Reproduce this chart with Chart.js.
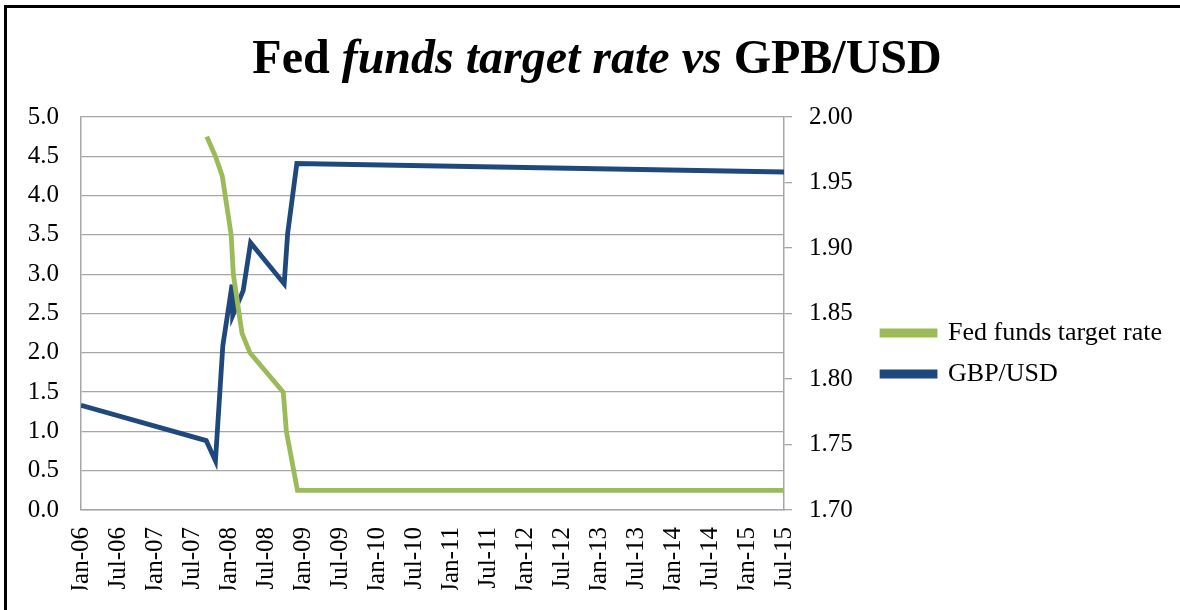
<!DOCTYPE html>
<html>
<head>
<meta charset="utf-8">
<script src="https://cdn.jsdelivr.net/npm/chart.js@4.4.1/dist/chart.umd.min.js"></script>
<style>
  html, body { margin: 0; padding: 0; background: #fff; }
  #wrap { position: relative; width: 1180px; height: 610px; overflow: hidden; }
  #frame { position: absolute; left: 4px; top: 5px; right: -10px; bottom: -10px;
           border-top: 3px solid #000; border-left: 3px solid #000; }
  #title { position: absolute; left: 0; top: 33px; width: 1194px; text-align: center;
           font: bold 48px "Liberation Serif", "Times New Roman", serif; line-height: 48px; color: #000; }
  #title i { font-style: italic; }
  canvas { position: absolute; left: 0; top: 0; }
</style>
</head>
<body>
<div id="wrap">
  <div id="frame"></div>
  <canvas id="chart" width="1180" height="610"></canvas>
  <div id="title">Fed <i>funds target rate vs</i> GPB/USD</div>
</div>
<script>
// months counted from Jan-06 = 0
const tickLabels = ["Jan-06","Jul-06","Jan-07","Jul-07","Jan-08","Jul-08","Jan-09","Jul-09",
  "Jan-10","Jul-10","Jan-11","Jul-11","Jan-12","Jul-12","Jan-13","Jul-13",
  "Jan-14","Jul-14","Jan-15","Jul-15"];

const fedMonths = [20.4, 21.8, 22.9, 24.35, 24.7, 26.1, 27.4, 32.8, 33.3, 35.1, 114];
const fedRate   = [4.75, 4.5, 4.25, 3.5, 3.0, 2.25, 2.0, 1.5, 1.0, 0.25, 0.25];

const fxMonths = [0, 20.3, 21.8, 23.0, 24.5, 24.6, 26.3, 27.5, 32.95, 33.5, 35.0, 114];
const gbpUsd   = [1.780, 1.753, 1.7375, 1.8256, 1.872, 1.8485, 1.8675, 1.904, 1.8726, 1.9107, 1.9645, 1.958];

const toPoints = (xs, ys) => xs.map((x, i) => ({ x: x, y: ys[i] }));

const serif = "'Liberation Serif', 'Times New Roman', serif";
const grey = "#a6a6a6";

new Chart(document.getElementById("chart"), {
  type: "line",
  data: {
    datasets: [
      {
        label: "Fed funds target rate",
        data: toPoints(fedMonths, fedRate),
        borderColor: "#9bbb59",
        backgroundColor: "#9bbb59",
        borderWidth: 4.8,
        pointRadius: 0,
        tension: 0,
        yAxisID: "y"
      },
      {
        label: "GBP/USD",
        data: toPoints(fxMonths, gbpUsd),
        borderColor: "#1f497d",
        backgroundColor: "#1f497d",
        borderWidth: 4.8,
        pointRadius: 0,
        tension: 0,
        yAxisID: "y2"
      }
    ]
  },
  options: {
    responsive: false,
    animation: false,
    layout: { padding: { left: 0, right: 8, top: 117, bottom: 20 } },
    plugins: {
      tooltip: { enabled: false },
      legend: {
        position: "right",
        maxWidth: 320,
        labels: {
          boxWidth: 53,
          boxHeight: 4,
          padding: 15,
          color: "#000",
          font: { family: serif, size: 26 }
        }
      }
    },
    scales: {
      x: {
        type: "linear",
        min: 0,
        max: 114,
        afterBuildTicks: (s) => { s.ticks = tickLabels.map((t, i) => ({ value: i * 6 })); },
        afterFit: (s) => { s.height = 80; },
        border: { display: true, color: grey, width: 1.5 },
        grid: { drawOnChartArea: false, drawTicks: false },
        ticks: {
          autoSkip: false,
          maxRotation: 90,
          minRotation: 90,
          padding: 17,
          color: "#000",
          font: { family: serif, size: 25 },
          callback: (v) => tickLabels[Math.round(v / 6)]
        }
      },
      y: {
        position: "left",
        min: 0,
        max: 5,
        afterFit: (s) => { s.width = 81; },
        border: { display: true, color: grey, width: 1.5 },
        grid: { color: grey, lineWidth: 1.3, drawTicks: false },
        ticks: {
          stepSize: 0.5,
          padding: 22,
          color: "#000",
          font: { family: serif, size: 25 },
          callback: (v) => v.toFixed(1)
        }
      },
      y2: {
        position: "right",
        min: 1.7,
        max: 2.0,
        afterFit: (s) => { s.width = 83; },
        border: { display: true, color: grey, width: 1.5 },
        grid: { drawOnChartArea: false, color: grey, tickLength: 8, lineWidth: 1.3 },
        ticks: {
          stepSize: 0.05,
          padding: 17,
          color: "#000",
          font: { family: serif, size: 25 },
          callback: (v) => v.toFixed(2)
        }
      }
    }
  }
});
</script>
</body>
</html>
